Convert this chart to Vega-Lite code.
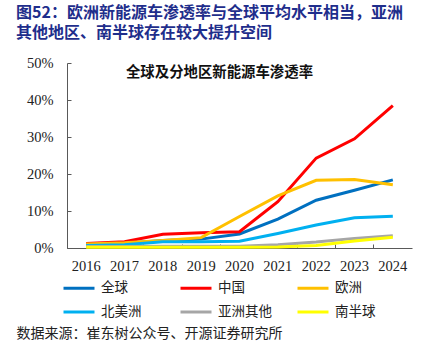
{
  "$schema": "https://vega.github.io/schema/vega-lite/v6.json",
  "width": 345,
  "height": 185,
  "autosize": {"type": "none"},
  "padding": {"left": 67, "top": 63, "right": 20, "bottom": 109},
  "background": "white",
  "title": {
    "text": ["图52：欧洲新能源车渗透率与全球平均水平相当，亚洲", "其他地区、南半球存在较大提升空间"],
    "anchor": "start",
    "frame": "group",
    "dx": -51,
    "font": "Noto Sans CJK SC",
    "fontSize": 16,
    "fontWeight": "bold",
    "color": "#1F2E8C",
    "lineHeight": 20.5,
    "offset": 14
  },
  "config": {
    "view": {"stroke": null},
    "axis": {"grid": false}
  },
  "data": {
    "values": [
      {"year": "2016", "region": "全球", "value": 0.009},
      {"year": "2017", "region": "全球", "value": 0.013},
      {"year": "2018", "region": "全球", "value": 0.020},
      {"year": "2019", "region": "全球", "value": 0.024},
      {"year": "2020", "region": "全球", "value": 0.038},
      {"year": "2021", "region": "全球", "value": 0.078},
      {"year": "2022", "region": "全球", "value": 0.129},
      {"year": "2023", "region": "全球", "value": 0.156},
      {"year": "2024", "region": "全球", "value": 0.184},
      {"year": "2016", "region": "中国", "value": 0.012},
      {"year": "2017", "region": "中国", "value": 0.017},
      {"year": "2018", "region": "中国", "value": 0.037},
      {"year": "2019", "region": "中国", "value": 0.041},
      {"year": "2020", "region": "中国", "value": 0.044},
      {"year": "2021", "region": "中国", "value": 0.125},
      {"year": "2022", "region": "中国", "value": 0.243},
      {"year": "2023", "region": "中国", "value": 0.295},
      {"year": "2024", "region": "中国", "value": 0.385},
      {"year": "2016", "region": "欧洲", "value": 0.011},
      {"year": "2017", "region": "欧洲", "value": 0.014},
      {"year": "2018", "region": "欧洲", "value": 0.020},
      {"year": "2019", "region": "欧洲", "value": 0.028},
      {"year": "2020", "region": "欧洲", "value": 0.085},
      {"year": "2021", "region": "欧洲", "value": 0.141},
      {"year": "2022", "region": "欧洲", "value": 0.183},
      {"year": "2023", "region": "欧洲", "value": 0.185},
      {"year": "2024", "region": "欧洲", "value": 0.171},
      {"year": "2016", "region": "北美洲", "value": 0.007},
      {"year": "2017", "region": "北美洲", "value": 0.009},
      {"year": "2018", "region": "北美洲", "value": 0.017},
      {"year": "2019", "region": "北美洲", "value": 0.017},
      {"year": "2020", "region": "北美洲", "value": 0.018},
      {"year": "2021", "region": "北美洲", "value": 0.039},
      {"year": "2022", "region": "北美洲", "value": 0.062},
      {"year": "2023", "region": "北美洲", "value": 0.082},
      {"year": "2024", "region": "北美洲", "value": 0.086},
      {"year": "2016", "region": "亚洲其他", "value": 0.004},
      {"year": "2017", "region": "亚洲其他", "value": 0.004},
      {"year": "2018", "region": "亚洲其他", "value": 0.005},
      {"year": "2019", "region": "亚洲其他", "value": 0.005},
      {"year": "2020", "region": "亚洲其他", "value": 0.005},
      {"year": "2021", "region": "亚洲其他", "value": 0.009},
      {"year": "2022", "region": "亚洲其他", "value": 0.016},
      {"year": "2023", "region": "亚洲其他", "value": 0.026},
      {"year": "2024", "region": "亚洲其他", "value": 0.033},
      {"year": "2016", "region": "南半球", "value": 0.002},
      {"year": "2017", "region": "南半球", "value": 0.002},
      {"year": "2018", "region": "南半球", "value": 0.002},
      {"year": "2019", "region": "南半球", "value": 0.002},
      {"year": "2020", "region": "南半球", "value": 0.002},
      {"year": "2021", "region": "南半球", "value": 0.003},
      {"year": "2022", "region": "南半球", "value": 0.007},
      {"year": "2023", "region": "南半球", "value": 0.019},
      {"year": "2024", "region": "南半球", "value": 0.029}
    ]
  },
  "mark": {"type": "line", "strokeWidth": 3},
  "encoding": {
    "x": {
      "field": "year",
      "type": "ordinal",
      "scale": {"type": "band", "paddingInner": 0, "paddingOuter": 0},
      "axis": {
        "title": "数据来源：崔东树公众号、开源证券研究所",
        "titleFont": "Noto Sans CJK SC",
        "titleFontSize": 14,
        "titleFontWeight": "normal",
        "titleColor": "#222222",
        "titleAnchor": null,
        "titleAlign": "left",
        "titleBaseline": "middle",
        "titleX": -51,
        "titleY": 85,
        "labelAngle": 0,
        "labelFont": "Liberation Serif",
        "labelFontSize": 14.5,
        "labelColor": "#222222",
        "labelPadding": 15,
        "bandPosition": 0,
        "tickSize": -4,
        "tickColor": "#595959",
        "domainColor": "#595959",
        "domainWidth": 1
      }
    },
    "y": {
      "field": "value",
      "type": "quantitative",
      "scale": {"domain": [0, 0.5]},
      "axis": {
        "format": ".0%",
        "values": [0, 0.1, 0.2, 0.3, 0.4, 0.5],
        "title": "全球及分地区新能源车渗透率",
        "titleFont": "Noto Sans CJK SC",
        "titleFontSize": 14.4,
        "titleFontWeight": "bold",
        "titleColor": "#111111",
        "titleAngle": 0,
        "titleAnchor": null,
        "titleAlign": "center",
        "titleBaseline": "middle",
        "titleX": 152,
        "titleY": 9,
        "labelFont": "Liberation Serif",
        "labelFontSize": 14.5,
        "labelColor": "#222222",
        "labelPadding": 18,
        "tickSize": -4,
        "tickColor": "#595959",
        "domainColor": "#595959",
        "domainWidth": 1
      }
    },
    "color": {
      "field": "region",
      "type": "nominal",
      "scale": {
        "domain": ["全球", "中国", "欧洲", "北美洲", "亚洲其他", "南半球"],
        "range": ["#0070C0", "#FF0000", "#FFC000", "#00B0F0", "#A6A6A6", "#FFFF00"]
      },
      "legend": {
        "title": null,
        "orient": "none",
        "legendX": -5,
        "legendY": 208,
        "direction": "horizontal",
        "columns": 3,
        "gridAlign": "all",
        "columnPadding": 19,
        "rowPadding": -9,
        "symbolType": "M-1,0H1",
        "symbolSize": 961,
        "symbolStrokeWidth": 3,
        "labelFont": "Noto Sans CJK SC",
        "labelFontSize": 13.5,
        "labelColor": "#222222",
        "labelOffset": 5
      }
    }
  }
}
